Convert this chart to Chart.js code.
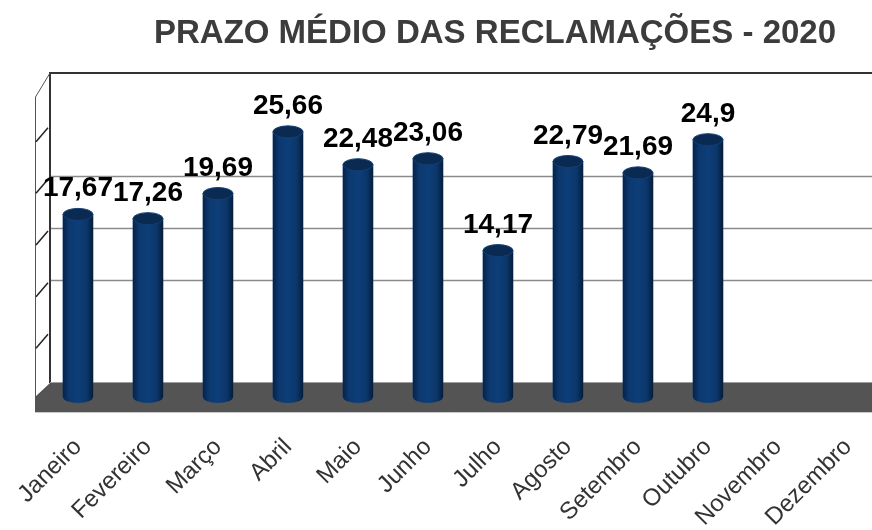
<!DOCTYPE html>
<html>
<head>
<meta charset="utf-8">
<script src="https://cdn.jsdelivr.net/npm/chart.js@4.4.0/dist/chart.umd.min.js"></script>
<style>
  html, body { margin: 0; padding: 0; background: #fff; overflow: hidden; }
  #wrap { position: relative; width: 872px; height: 530px; }
  #wrap canvas { position: absolute; left: 0; top: 0; }
  #title {
    position: absolute; left: 95px; top: 15px; width: 800px;
    text-align: center; white-space: nowrap;
    font: bold 33px/33px "Liberation Sans", Arial, sans-serif; color: #3c3c3c;
  }
</style>
</head>
<body>
<div id="wrap">
  <canvas id="prazoChart" width="872" height="530"></canvas>
  <div id="title">PRAZO MÉDIO DAS RECLAMAÇÕES - 2020</div>
</div>
<script>
const months = ['Janeiro','Fevereiro','Março','Abril','Maio','Junho','Julho','Agosto','Setembro','Outubro','Novembro','Dezembro'];
const prazos = [17.67, 17.26, 19.69, 25.66, 22.48, 23.06, 14.17, 22.79, 21.69, 24.9, null, null];
const gridValues = [10, 15, 20];
const wallTicks = [5, 10, 15, 20, 25];

// depth of the fake 3d box (front -> back)
const DX = 15, DY = 14;

function fmt(v){
  return String(v).replace('.', ',');
}

const box3d = {
  id: 'box3d',
  beforeDatasetsDraw(chart){
    const { ctx, chartArea: a, scales: { y } } = chart;
    const x0 = a.left, bx = a.left + DX, right = chart.width;
    const top = y.getPixelForValue(30) - DY;
    const y0 = y.getPixelForValue(0);
    const bottom = y0 - DY;
    ctx.save();
    // back wall gridlines
    ctx.strokeStyle = '#8a8a8a';
    ctx.lineWidth = 1.5;
    for (const v of gridValues){
      const gy = Math.round(y.getPixelForValue(v) - DY) + 0.5;
      ctx.beginPath(); ctx.moveTo(bx, gy); ctx.lineTo(right, gy); ctx.stroke();
    }
    // wall borders
    ctx.strokeStyle = '#333';
    ctx.lineWidth = 2;
    ctx.beginPath(); ctx.moveTo(right, top); ctx.lineTo(bx, top); ctx.lineTo(bx, bottom); ctx.stroke();
    // side wall
    ctx.lineWidth = 1;
    ctx.strokeStyle = '#555';
    ctx.beginPath(); ctx.moveTo(bx, top); ctx.lineTo(x0 + 0.5, top + DY + 10); ctx.lineTo(x0 + 0.5, y0); ctx.stroke();
    ctx.strokeStyle = '#222';
    ctx.lineWidth = 1.5;
    for (const v of wallTicks){
      const ty = y.getPixelForValue(v);
      ctx.beginPath(); ctx.moveTo(x0 + 1, ty + 3); ctx.lineTo(bx - 2, ty - DY + 3); ctx.stroke();
    }
    // floor
    ctx.fillStyle = '#545454';
    ctx.beginPath();
    ctx.moveTo(x0, y0); ctx.lineTo(bx, bottom); ctx.lineTo(right, bottom);
    ctx.lineTo(right, y0 + 15); ctx.lineTo(x0, y0 + 15); ctx.closePath();
    ctx.fill();
    ctx.strokeStyle = '#a0a0a0';
    ctx.lineWidth = 1;
    ctx.beginPath(); ctx.moveTo(bx, bottom - 0.5); ctx.lineTo(right, bottom - 0.5); ctx.stroke();
    ctx.strokeStyle = '#c8c8c8';
    ctx.beginPath(); ctx.moveTo(x0, y0 + 15.5); ctx.lineTo(right, y0 + 15.5); ctx.stroke();
    ctx.restore();
  },
  afterDatasetsDraw(chart){
    const { ctx } = chart;
    const meta = chart.getDatasetMeta(0);
    ctx.save();
    meta.data.forEach((bar, i) => {
      if (prazos[i] == null) return;
      const { x, y, base, width } = bar.getProps(['x', 'y', 'base', 'width'], true);
      const l = x - width / 2, r = x + width / 2, ry = 6;
      const g = ctx.createLinearGradient(l, 0, r, 0);
      g.addColorStop(0, '#06234a');
      g.addColorStop(0.2, '#0b386f');
      g.addColorStop(0.5, '#0e3e78');
      g.addColorStop(0.8, '#0b3669');
      g.addColorStop(1, '#051d3d');
      ctx.fillStyle = g;
      ctx.beginPath();
      ctx.moveTo(l, y);
      ctx.lineTo(l, base);
      ctx.ellipse(x, base, width / 2, ry, 0, Math.PI, 0, true);
      ctx.lineTo(r, y);
      ctx.closePath();
      ctx.fill();
      // top cap
      ctx.fillStyle = '#0a2a52';
      ctx.strokeStyle = '#113f73';
      ctx.lineWidth = 1;
      ctx.beginPath();
      ctx.ellipse(x, y, width / 2, ry, 0, 0, Math.PI * 2);
      ctx.fill();
      ctx.stroke();
      // value label
      ctx.fillStyle = '#000';
      ctx.font = 'bold 28px "Liberation Sans", Arial, sans-serif';
      ctx.textAlign = 'center';
      ctx.textBaseline = 'alphabetic';
      ctx.fillText(fmt(prazos[i]), x, y - 18);
    });
    ctx.restore();
  }
};

new Chart(document.getElementById('prazoChart'), {
  type: 'bar',
  data: {
    datasets: [{
      data: prazos.map((v, i) => ({ x: i, y: v })),
      backgroundColor: '#0b3a73',
      borderWidth: 0,
      barThickness: 30
    }]
  },
  options: {
    responsive: false,
    animation: false,
    layout: { padding: { left: 35, right: 0, top: 87, bottom: 0 } },
    plugins: { legend: { display: false }, tooltip: { enabled: false }, title: { display: false } },
    scales: {
      x: {
        type: 'linear',
        offset: false,
        min: -0.614,
        max: 11.343,
        grid: { display: false },
        border: { display: false },
        afterBuildTicks: s => { s.ticks = months.map((m, i) => ({ value: i })); },
        afterFit: s => {
          s.height = 133;
          s.paddingLeft = 0;
          s.paddingRight = 0;
        },
        ticks: {
          autoSkip: false,
          minRotation: 45,
          maxRotation: 45,
          padding: 28,
          color: '#333',
          font: { family: '"Liberation Sans", Arial, sans-serif', size: 24 },
          callback: v => months[v]
        }
      },
      y: { display: false, min: 0, max: 30 }
    }
  },
  plugins: [box3d]
});
</script>
</body>
</html>
